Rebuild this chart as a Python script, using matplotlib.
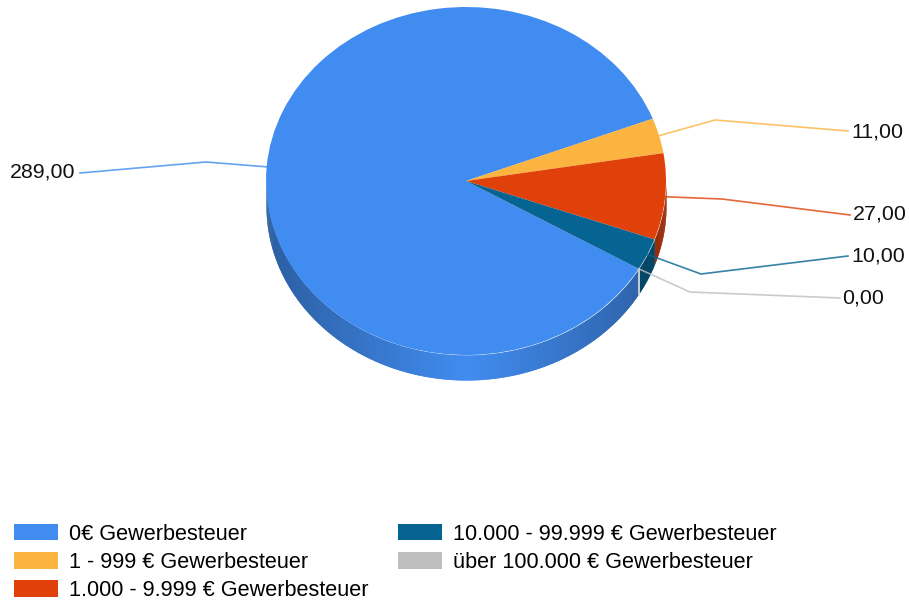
import numpy as np
import matplotlib
matplotlib.use("Agg")
import matplotlib.pyplot as plt
from matplotlib.colors import to_rgb

categories = ["0€ Gewerbesteuer", "1 - 999 € Gewerbesteuer", "1.000 - 9.999 € Gewerbesteuer",
              "10.000 - 99.999 € Gewerbesteuer", "über 100.000 € Gewerbesteuer"]
values = [289, 11, 27, 10, 0]
value_labels = ["289,00", "11,00", "27,00", "10,00", "0,00"]
colors = ["#418CF0", "#FCB441", "#E0400A", "#056492", "#BFBFBF"]

W, H = 909, 601
CX, CY, RX, RY, DEPTH = 466, 181, 200, 174, 25
START = -30.3
# leader-line elbow and end, label position (pixels)
elbows = [(206, 162), (715, 120), (722, 199), (701, 274), (690, 292)]
ends = [(80, 173), (848, 131), (850, 215), (848, 256), (840, 298)]
label_xy = [(10, 172), (851, 132), (853, 214), (851, 256), (842, 298)]

plt.rcParams["font.family"] = ["Liberation Sans", "DejaVu Sans"]
fig = plt.figure(figsize=(W / 100, H / 100), dpi=100)

# pie axes: data unit = pie radius, elliptical by axes shape
ax = fig.add_axes([(CX - RX) / W, 1 - (CY + RY) / H, 2 * RX / W, 2 * RY / H])
wedges, _ = ax.pie(values, colors=colors, startangle=START, counterclock=False, radius=1,
                   wedgeprops=dict(linewidth=0, zorder=5))
ax.set_aspect("auto")
ax.set_xlim(-1, 1)
ax.set_ylim(-1, 1)
ax.axis("off")

d = DEPTH / RY
total = sum(values)
ang = START
mids = []
order = 2.0
for v, c in zip(values, colors):
    a0, a1 = ang, ang - v / total * 360
    mids.append((a0 + a1) / 2)
    ang = a1
    base = np.array(to_rgb(c))
    t = np.arange(a0, a1, -0.5)
    for t0 in t:
        if np.sin(np.radians(t0 - 0.25)) >= 0:
            continue
        # each strip runs one step past the next so that seams stay closed
        t1 = max(t0 - 1.0, a1)
        th = np.radians(np.linspace(t0, t1, 4))
        x = np.cos(th)
        y = np.sin(th)
        s = np.argsort(x)
        col = base * (1 - 0.33 * abs(np.cos(np.radians(t0 - 0.25))))
        order += 0.001
        ax.fill_between(x[s], y[s], y[s] - d, color=col, linewidth=0, zorder=order, clip_on=False)
    if v == 0:
        zero_x = np.cos(np.radians(a0))
        zero_y = np.sin(np.radians(a0))
        ax.plot([zero_x, zero_x], [zero_y, zero_y - d], color="#C9CFD6", lw=1.4, zorder=6, clip_on=False)

# overlay in pixel coordinates for the leaders and labels
ov = fig.add_axes([0, 0, 1, 1], zorder=10)
ov.set_xlim(0, W)
ov.set_ylim(H, 0)
ov.axis("off")
ov.patch.set_alpha(0)
for m, e, n, c, txt, xy in zip(mids, elbows, ends, colors, value_labels, label_xy):
    sx = CX + RX * np.cos(np.radians(m))
    sy = CY - RY * np.sin(np.radians(m))
    ov.plot([sx, e[0], n[0]], [sy, e[1], n[1]], color=c, lw=1.2, alpha=0.8, solid_joinstyle="round")
    ov.text(xy[0], xy[1], txt, fontsize=15.4, ha="left", va="center", color="#111111")

fig.legend(wedges, categories, ncol=2, loc="upper left", bbox_to_anchor=(14 / W, 1 - 523.5 / H),
           frameon=False, fontsize=15.6, handlelength=2.03, handleheight=0.82, handletextpad=0.5,
           labelspacing=0.33, columnspacing=1.39, borderpad=0, borderaxespad=0)
fig.savefig("out.png", dpi=100)
